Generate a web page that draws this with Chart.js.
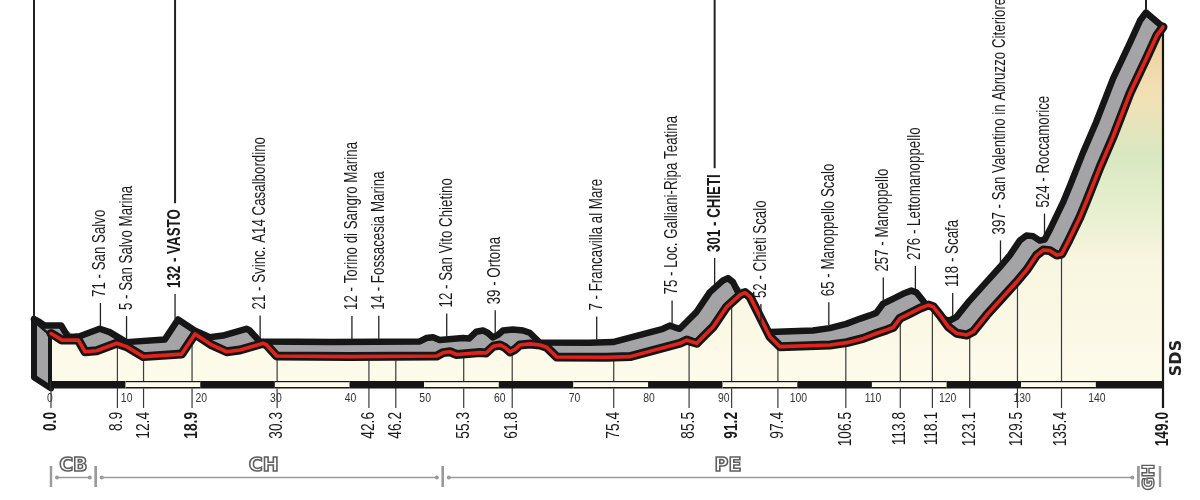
<!DOCTYPE html>
<html>
<head>
<meta charset="utf-8">
<script src="https://cdn.jsdelivr.net/npm/chart.js@4.4.1/dist/chart.umd.min.js"></script>
<style>
html,body{margin:0;padding:0;background:#ffffff;}
#wrap{width:1200px;height:500px;position:relative;}
</style>
</head>
<body>
<div id="wrap"><canvas id="c" width="1200" height="500"></canvas></div>
<script>
// ---------- DATA ----------
const profileKm = [0, 0.76, 1.43, 3.66, 4.56, 6.12, 8.8, 10.14, 12.37, 17.51, 19.3, 21.53, 23.54, 25.32, 28.45, 28.9, 30.24, 40.06, 51.7, 52.57, 53.46, 54.36, 57.48, 58.29, 59.27, 60.16, 60.83, 61.5, 62.17, 62.84, 64.18, 65.52, 66.42, 67.76, 74.46, 77.58, 84.28, 85.18, 85.85, 86.52, 87.86, 88.74, 90.54, 92.32, 92.99, 93.66, 95.0, 96.34, 97.68, 104.38, 106.62, 108.84, 110.64, 111.98, 112.86, 113.76, 115.1, 116.44, 117.56, 118.22, 119.11, 120.23, 121.36, 122.7, 123.58, 125.37, 127.6, 129.4, 130.74, 132.08, 132.97, 133.86, 134.76, 135.43, 136.27, 137.88, 138.82, 140.56, 142.3, 144.58, 146.86, 148.2, 149];
const profileAlt = [224, 209, 193, 193, 138, 143, 178, 162, 115, 127, 222, 170, 138, 146, 178, 170, 118, 115, 118, 134, 138, 125, 134, 132, 164, 170, 158, 137, 149, 170, 175, 170, 159, 113, 112, 115, 178, 193, 185, 178, 225, 256, 350, 406, 417, 398, 303, 209, 162, 170, 181, 201, 225, 241, 253, 296, 319, 343, 358, 350, 311, 256, 225, 217, 233, 311, 398, 468, 524, 594, 618, 615, 594, 599, 656, 774, 854, 1009, 1151, 1358, 1528, 1632, 1670];

const placeKm = [8.9, 12.4, 18.9, 30.3, 42.6, 46.2, 55.3, 61.8, 75.4, 85.5, 91.2, 97.4, 106.5, 113.8, 118.1, 123.1, 129.5, 135.4];
const placeNames = ["71 - San Salvo", "5 - San Salvo Marina", "132 - VASTO", "21 - Svinc. A14 Casalbordino", "12 - Torino di Sangro Marina", "14 - Fossacesia Marina", "12 - San Vito Chietino", "39 - Ortona", "7 - Francavilla al Mare", "75 - Loc. Galliani-Ripa Teatina", "301 - CHIETI", "52 - Chieti Scalo", "65 - Manoppello Scalo", "257 - Manoppello", "276 - Lettomanoppello", "118 - Scafa", "397 - San Valentino in Abruzzo Citeriore", "524 - Roccamorice"];
const placeBold = ["132 - VASTO", "301 - CHIETI"];

const kmMarks = [0, 8.9, 12.4, 18.9, 30.3, 42.6, 46.2, 55.3, 61.8, 75.4, 85.5, 91.2, 97.4, 106.5, 113.8, 118.1, 123.1, 129.5, 135.4, 149];
const kmMarkLabels = ["0.0", "8.9", "12.4", "18.9", "30.3", "42.6", "46.2", "55.3", "61.8", "75.4", "85.5", "91.2", "97.4", "106.5", "113.8", "118.1", "123.1", "129.5", "135.4", "149.0"];
const kmMarkBold = ["0.0", "18.9", "91.2", "149.0"];

const tickKm = [0, 10, 20, 30, 40, 50, 60, 70, 80, 90, 100, 110, 120, 130, 140];
const tickLabels = ["0", "10", "20", "30", "40", "50", "60", "70", "80", "90", "100", "110", "120", "130", "140"];

const regionCodes = ["CB", "CH", "PE", "GH"];
const regionFrom = [0, 6.0, 52.5, 145.7];
const regionTo = [6.0, 52.5, 145.7, 148.6];
const regionLabelKm = [3.0, 28.5, 90.7, 147.2];

// ---------- STYLE ----------
const BLACK = '#161616';
const RED = '#e2231b';
const GRAY = '#a4a4a6';
const SHIFT_X = -17, SHIFT_Y = -14.5;
const STRIP_H = 7.5;
const LABEL_FONT = '"Liberation Sans", Arial, sans-serif';

function altAt(km) {
  for (let i = 0; i < profileKm.length - 1; i++) {
    if (km >= profileKm[i] && km <= profileKm[i + 1]) {
      const t = (km - profileKm[i]) / (profileKm[i + 1] - profileKm[i]);
      return profileAlt[i] + t * (profileAlt[i + 1] - profileAlt[i]);
    }
  }
  return profileAlt[profileAlt.length - 1];
}

function rotText(ctx, text, x, y, align, font, color, sx) {
  ctx.save();
  ctx.translate(x, y);
  ctx.rotate(-Math.PI / 2);
  ctx.scale(sx, 1);
  ctx.font = font;
  ctx.fillStyle = color;
  ctx.textAlign = align;
  ctx.textBaseline = 'middle';
  ctx.fillText(text, 0, 0);
  ctx.restore();
}

const profile3D = {
  id: 'profile3D',
  beforeDatasetsDraw(chart) {
    const ctx = chart.ctx;
    const xs = chart.scales.x, ys = chart.scales.y;
    const pts = chart.getDatasetMeta(0).data.map(p => ({ x: p.x, y: p.y }));
    const base = ys.getPixelForValue(0);
    const p0 = pts[0], pl = pts[pts.length - 1];
    ctx.save();
    ctx.lineJoin = 'round';
    ctx.lineCap = 'round';

    // left face of the 3D block
    ctx.beginPath();
    ctx.moveTo(p0.x + SHIFT_X, p0.y + SHIFT_Y);
    ctx.lineTo(p0.x, p0.y);
    ctx.lineTo(p0.x, base + STRIP_H);
    ctx.lineTo(p0.x + SHIFT_X, base + STRIP_H - 11);
    ctx.closePath();
    ctx.fillStyle = GRAY;
    ctx.fill();
    ctx.lineWidth = 6;
    ctx.strokeStyle = BLACK;
    ctx.stroke();

    // gray top band
    ctx.fillStyle = GRAY;
    ctx.strokeStyle = GRAY;
    ctx.lineWidth = 1;
    for (let i = 0; i < pts.length - 1; i++) {
      const a = pts[i], b = pts[i + 1];
      ctx.beginPath();
      ctx.moveTo(a.x, a.y);
      ctx.lineTo(b.x, b.y);
      ctx.lineTo(b.x + SHIFT_X, b.y + SHIFT_Y);
      ctx.lineTo(a.x + SHIFT_X, a.y + SHIFT_Y);
      ctx.closePath();
      ctx.fill();
      ctx.stroke();
    }
    // top outline
    ctx.beginPath();
    ctx.moveTo(p0.x + SHIFT_X, p0.y + SHIFT_Y);
    for (let i = 1; i < pts.length; i++) ctx.lineTo(pts[i].x + SHIFT_X, pts[i].y + SHIFT_Y);
    ctx.lineTo(pl.x, pl.y);
    ctx.lineWidth = 6.5;
    ctx.strokeStyle = BLACK;
    ctx.stroke();

    // front face
    const grad = ctx.createLinearGradient(0, chart.chartArea.top, 0, base);
    grad.addColorStop(0.0, '#efcd9c');
    grad.addColorStop(0.2, '#f2e1b6');
    grad.addColorStop(0.36, '#d9e8c1');
    grad.addColorStop(0.5, '#e5eecd');
    grad.addColorStop(0.66, '#f8f5e0');
    grad.addColorStop(1.0, '#fdfbea');
    ctx.beginPath();
    ctx.moveTo(p0.x, p0.y);
    for (let i = 1; i < pts.length; i++) ctx.lineTo(pts[i].x, pts[i].y);
    ctx.lineTo(pl.x, base);
    ctx.lineTo(p0.x, base);
    ctx.closePath();
    ctx.fillStyle = grad;
    ctx.fill();

    // left front edge
    ctx.beginPath();
    ctx.moveTo(p0.x, p0.y);
    ctx.lineTo(p0.x, base + STRIP_H);
    ctx.lineWidth = 2;
    ctx.strokeStyle = BLACK;
    ctx.stroke();

    // vertical km lines
    ctx.lineCap = 'butt';
    for (let i = 0; i < kmMarks.length; i++) {
      const km = kmMarks[i];
      const x = xs.getPixelForValue(km);
      const yTop = (i === 0) ? base : ys.getPixelForValue(altAt(km)) + (i === kmMarks.length - 1 ? 0 : 4);
      ctx.beginPath();
      ctx.moveTo(x, yTop);
      ctx.lineTo(x, 408);
      ctx.lineWidth = (i === kmMarks.length - 1) ? 2.2 : 1.2;
      ctx.strokeStyle = (i === kmMarks.length - 1) ? BLACK : '#3a3a3a';
      ctx.stroke();
    }

    // km strip
    for (let i = 0; i < tickKm.length; i++) {
      const xa = xs.getPixelForValue(tickKm[i]);
      const xb = xs.getPixelForValue(Math.min(tickKm[i] + 10, 149));
      if (i % 2 === 0) {
        ctx.fillStyle = BLACK;
        ctx.fillRect(xa, base, xb - xa, STRIP_H);
      } else {
        ctx.fillStyle = '#fdfbea';
        ctx.fillRect(xa, base, xb - xa, STRIP_H);
        ctx.fillStyle = BLACK;
        ctx.fillRect(xa, base, xb - xa, 1.2);
        ctx.fillRect(xa, base + STRIP_H - 1.5, xb - xa, 1.5);
      }
    }
    ctx.restore();
  },
  afterDatasetsDraw(chart) {
    const ctx = chart.ctx;
    const xs = chart.scales.x, ys = chart.scales.y;
    ctx.save();
    const SX = 0.74;

    // start / finish label lines (labels are outside the picture)
    const startX = xs.getPixelForValue(0) + SHIFT_X;
    const startY = ys.getPixelForValue(altAt(0)) + SHIFT_Y;
    const finX = xs.getPixelForValue(149) + SHIFT_X;
    const finY = ys.getPixelForValue(altAt(149)) + SHIFT_Y;
    ctx.strokeStyle = '#222';
    ctx.lineWidth = 2;
    ctx.beginPath(); ctx.moveTo(startX, 0); ctx.lineTo(startX, startY - 3); ctx.stroke();
    ctx.beginPath(); ctx.moveTo(finX, 0); ctx.lineTo(finX, finY - 3); ctx.stroke();

    // place labels on the top surface
    for (let i = 0; i < placeKm.length; i++) {
      const km = placeKm[i];
      const name = placeNames[i];
      const bold = placeBold.includes(name);
      const x = xs.getPixelForValue(km) + SHIFT_X;
      const surf = ys.getPixelForValue(altAt(km)) + SHIFT_Y;
      const bottom = surf - (bold ? 36 : 32);
      const font = (bold ? 'bold ' : '') + '18px ' + LABEL_FONT;
      ctx.font = font;
      const len = ctx.measureText(name).width * SX;
      rotText(ctx, name, x, bottom, 'left', font, '#1a1a1a', SX);
      ctx.strokeStyle = '#222';
      ctx.lineWidth = 1.3;
      ctx.beginPath();
      ctx.moveTo(x, bottom + 6);
      ctx.lineTo(x, surf - 3);
      ctx.stroke();
      if (bold) {
        ctx.lineWidth = 2;
        ctx.beginPath();
        ctx.moveTo(x, 0);
        ctx.lineTo(x, bottom - len - 6);
        ctx.stroke();
      }
    }

    // km labels below the axis
    for (let i = 0; i < kmMarks.length; i++) {
      const x = xs.getPixelForValue(kmMarks[i]);
      const t = kmMarkLabels[i];
      const bold = kmMarkBold.includes(t);
      rotText(ctx, t, x, 412, 'right', (bold ? 'bold ' : '') + '18px ' + LABEL_FONT, '#1a1a1a', 0.76);
    }

    // tick numbers
    ctx.font = '13px ' + LABEL_FONT;
    ctx.fillStyle = '#333';
    ctx.textAlign = 'center';
    ctx.textBaseline = 'middle';
    for (let i = 0; i < tickKm.length; i++) {
      const x = xs.getPixelForValue(tickKm[i]);
      ctx.save();
      ctx.translate(x + (i === 0 ? -1 : 1), 398);
      ctx.scale(0.8, 1);
      ctx.fillText(tickLabels[i], 0, 0);
      ctx.restore();
    }

    // region brackets
    ctx.strokeStyle = '#9a9a9a';
    ctx.fillStyle = '#9a9a9a';
    for (let i = 0; i < regionCodes.length; i++) {
      const xa = xs.getPixelForValue(regionFrom[i]);
      const xb = xs.getPixelForValue(regionTo[i]);
      ctx.lineWidth = 2.4;
      ctx.beginPath(); ctx.moveTo(xa, 466); ctx.lineTo(xa, 487); ctx.stroke();
      ctx.beginPath(); ctx.moveTo(xb, 466); ctx.lineTo(xb, 487); ctx.stroke();
      const code = regionCodes[i];
      const lx = xs.getPixelForValue(regionLabelKm[i]);
      if (code === 'GH') {
        ctx.save();
        ctx.translate(lx, 477);
        ctx.rotate(-Math.PI / 2);
        ctx.font = 'bold 16px "DejaVu Sans", sans-serif';
        ctx.textAlign = 'center'; ctx.textBaseline = 'middle';
        ctx.fillStyle = '#fff'; ctx.fillText(code, 0, 0);
        ctx.lineWidth = 1.4; ctx.strokeStyle = '#5e5e5e'; ctx.strokeText(code, 0, 0);
        ctx.restore();
        continue;
      }
      ctx.lineWidth = 1.6;
      ctx.beginPath(); ctx.moveTo(xa + 6, 477.5); ctx.lineTo(xb - 6, 477.5); ctx.stroke();
      ctx.beginPath(); ctx.arc(xa + 6, 477.5, 2, 0, Math.PI * 2); ctx.fill();
      ctx.beginPath(); ctx.arc(xb - 6, 477.5, 2, 0, Math.PI * 2); ctx.fill();
      ctx.save();
      ctx.font = 'bold 19px "DejaVu Sans", sans-serif';
      ctx.textAlign = 'center'; ctx.textBaseline = 'middle';
      ctx.fillStyle = '#fff'; ctx.fillText(code, lx, 466);
      ctx.lineWidth = 1.6; ctx.strokeStyle = '#5e5e5e'; ctx.strokeText(code, lx, 466);
      ctx.restore();
      ctx.strokeStyle = '#9a9a9a';
      ctx.fillStyle = '#9a9a9a';
    }

    // SDS mark
    rotText(ctx, 'SDS', 1177, 358, 'center', 'bold 16px "DejaVu Sans", sans-serif', '#222', 1);
    ctx.restore();
  }
};

const points = profileKm.map((k, i) => ({ x: k, y: profileAlt[i] }));

new Chart(document.getElementById('c'), {
  type: 'line',
  data: {
    datasets: [
      { data: points, borderColor: RED, borderWidth: 3.6, pointRadius: 0, tension: 0, fill: false, order: 0, borderJoinStyle: 'round', borderCapStyle: 'round', clip: false },
      { data: points, borderColor: BLACK, borderWidth: 9, pointRadius: 0, tension: 0, fill: false, order: 1, borderJoinStyle: 'round', borderCapStyle: 'round', clip: false }
    ]
  },
  options: {
    responsive: false,
    animation: false,
    devicePixelRatio: 1,
    layout: { padding: { left: 51, right: 37, top: 27, bottom: 119 } },
    scales: {
      x: { type: 'linear', min: 0, max: 149, display: false },
      y: { type: 'linear', min: 0, max: 1670, display: false }
    },
    plugins: { legend: { display: false }, tooltip: { enabled: false } },
    events: []
  },
  plugins: [profile3D]
});
</script>
</body>
</html>
